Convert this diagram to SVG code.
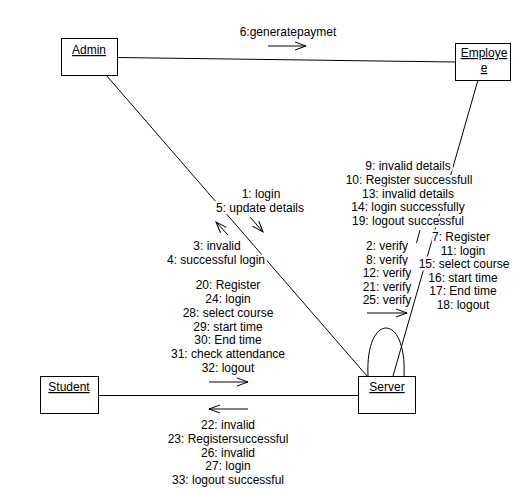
<svg xmlns="http://www.w3.org/2000/svg" width="520" height="490" viewBox="0 0 520 490">
<style>
text{font-family:"Liberation Sans",Arial,sans-serif;font-size:12px;fill:#000;}
.lbl{text-anchor:middle;stroke:#fff;stroke-width:5;paint-order:stroke;stroke-linejoin:round;}
.nm{text-anchor:middle;text-decoration:underline;}
.box{fill:#fff;stroke:#000;stroke-width:1;}
.ln{stroke:#000;stroke-width:1;fill:none;}
.ar{stroke:#000;stroke-width:1;fill:none;marker-end:url(#open);}
</style>
<defs>
<marker id="open" viewBox="-12 -5 14 10" refX="0" refY="0" markerWidth="14" markerHeight="10" markerUnits="userSpaceOnUse" orient="auto">
<path d="M-11,-4 L0,0 L-11,4" fill="none" stroke="#000" stroke-width="1"/>
</marker>
</defs>
<rect width="520" height="490" fill="#fff"/>
<g id="connectors">
<line class="ln" x1="117" y1="57.5" x2="455" y2="62"/>
<line class="ln" x1="106" y1="75" x2="367" y2="376"/>
<line class="ln" x1="478" y1="80" x2="393" y2="376"/>
<line class="ln" x1="98" y1="395.5" x2="358" y2="395.5"/>
<line class="ln" x1="420" y1="230" x2="416.5" y2="243"/>
<path class="ln" d="M368,376 C365,312 407,312 404,376"/>
</g>
<g id="labels">
<text class="lbl" x="288" y="36">6:generatepaymet</text>
<line class="ar" x1="268" y1="46" x2="306" y2="46"/>
<text class="lbl" x="261" y="198">1: login</text>
<text class="lbl" x="260" y="211.5">5: update details</text>
<line class="ar" x1="250" y1="217" x2="263" y2="232"/>
<text class="lbl" x="217" y="250">3: invalid</text>
<text class="lbl" x="216" y="263.5">4: successful login</text>
<line class="ar" x1="228" y1="235" x2="216" y2="222"/>
<text class="lbl" x="408" y="170">9: invalid details</text>
<text class="lbl" x="409" y="183.75">10: Register successfull</text>
<text class="lbl" x="408" y="197.5">13: invalid details</text>
<text class="lbl" x="408" y="211.25">14: login successfully</text>
<text class="lbl" x="408" y="225">19: logout successful</text>
<text class="lbl" x="387" y="250">2: verify</text>
<text class="lbl" x="387" y="263.6">8: verify</text>
<text class="lbl" x="387" y="277.2">12: verify</text>
<text class="lbl" x="387" y="290.8">21: verify</text>
<text class="lbl" x="387" y="304.4">25: verify</text>
<line class="ar" x1="367" y1="313" x2="407" y2="313"/>
<text class="lbl" x="461" y="241">7: Register</text>
<text class="lbl" x="463" y="254.6">11: login</text>
<text class="lbl" x="464" y="268.2">15: select course</text>
<text class="lbl" x="463" y="281.8">16: start time</text>
<text class="lbl" x="463" y="295.4">17: End time</text>
<text class="lbl" x="463" y="309">18: logout</text>
<text class="lbl" x="228" y="289">20: Register</text>
<text class="lbl" x="228" y="302.8">24: login</text>
<text class="lbl" x="228" y="316.7">28: select course</text>
<text class="lbl" x="228" y="330.5">29: start time</text>
<text class="lbl" x="228" y="344.3">30: End time</text>
<text class="lbl" x="228" y="358.2">31: check attendance</text>
<text class="lbl" x="228" y="372">32: logout</text>
<line class="ar" x1="209" y1="382" x2="248" y2="382"/>
<line class="ar" x1="248" y1="409" x2="209" y2="409"/>
<text class="lbl" x="228" y="429">22: invalid</text>
<text class="lbl" x="228" y="442.75">23: Registersuccessful</text>
<text class="lbl" x="228" y="456.5">26: invalid</text>
<text class="lbl" x="228" y="470.25">27: login</text>
<text class="lbl" x="228" y="484">33: logout successful</text>
</g>
<g id="admin">
<rect class="box" x="61.5" y="38.5" width="56" height="37"/>
<text class="nm" x="89" y="54">Admin</text>
</g>
<g id="employee">
<rect class="box" x="455.5" y="43.5" width="55" height="37"/>
<text class="nm" x="484" y="57">Employe</text>
<text class="nm" x="484" y="72">e</text>
</g>
<g id="student">
<rect class="box" x="40.5" y="376.5" width="58" height="37"/>
<text class="nm" x="69" y="391">Student</text>
</g>
<g id="server">
<rect class="box" x="358.5" y="376.5" width="57" height="37"/>
<text class="nm" x="387" y="391">Server</text>
</g>
</svg>
